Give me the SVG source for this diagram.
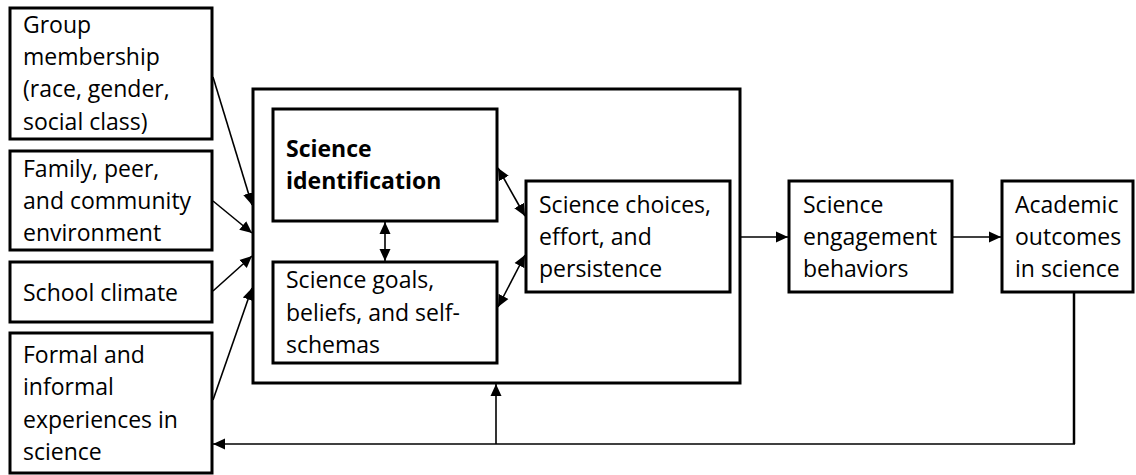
<svg xmlns="http://www.w3.org/2000/svg" width="1136" height="475" viewBox="0 0 1136 475">
<style>
.box{fill:#fff;stroke:#000;stroke-width:3}
.t{font-family:"Open Sans","Liberation Sans",sans-serif;font-size:23px;fill:#000}
.b{font-weight:bold}
.c{fill:none;stroke:#000;stroke-width:1.6}
</style>
<defs>
<marker id="ah" markerUnits="userSpaceOnUse" markerWidth="13" markerHeight="13" viewBox="0 0 13 13" refX="12" refY="6.5" orient="auto-start-reverse">
<path d="M0,1 L12,6.5 L0,12 Z" fill="#000"/>
</marker>
</defs>
<g id="outer"><rect class="box" x="253" y="89" width="487" height="294"/></g>
<g id="n-group"><rect class="box" x="10" y="8" width="202" height="131"/>
<text class="t"><tspan x="23" y="33">Group</tspan><tspan x="23" y="65">membership</tspan><tspan x="23" y="97">(race, gender,</tspan><tspan x="23" y="130">social class)</tspan></text></g>
<g id="n-family"><rect class="box" x="10" y="151" width="202" height="99"/>
<text class="t"><tspan x="23" y="177">Family, peer,</tspan><tspan x="23" y="209">and community</tspan><tspan x="23" y="241">environment</tspan></text></g>
<g id="n-school"><rect class="box" x="10" y="262" width="202" height="60"/>
<text class="t" x="23" y="301">School climate</text></g>
<g id="n-formal"><rect class="box" x="10" y="333" width="202" height="140"/>
<text class="t"><tspan x="23" y="363">Formal and</tspan><tspan x="23" y="395">informal</tspan><tspan x="23" y="428">experiences in</tspan><tspan x="23" y="460">science</tspan></text></g>
<g id="n-ident"><rect class="box" x="273" y="109" width="224" height="112"/>
<text class="t b"><tspan x="286" y="157">Science</tspan><tspan x="286" y="189">identification</tspan></text></g>
<g id="n-goals"><rect class="box" x="273" y="262" width="224" height="101"/>
<text class="t"><tspan x="286" y="288">Science goals,</tspan><tspan x="286" y="321">beliefs, and self-</tspan><tspan x="286" y="353">schemas</tspan></text></g>
<g id="n-choices"><rect class="box" x="526" y="181" width="204" height="111"/>
<text class="t"><tspan x="539" y="213">Science choices,</tspan><tspan x="539" y="245">effort, and</tspan><tspan x="539" y="277">persistence</tspan></text></g>
<g id="n-engage"><rect class="box" x="789" y="181" width="163" height="111"/>
<text class="t"><tspan x="803" y="213">Science</tspan><tspan x="803" y="245">engagement</tspan><tspan x="803" y="277">behaviors</tspan></text></g>
<g id="n-academic"><rect class="box" x="1002" y="181" width="131" height="111"/>
<text class="t"><tspan x="1015" y="213">Academic</tspan><tspan x="1015" y="245">outcomes</tspan><tspan x="1015" y="277">in science</tspan></text></g>
<g id="connectors">
<line class="c" x1="213" y1="77" x2="252" y2="205" marker-end="url(#ah)"/>
<line class="c" x1="213" y1="201" x2="252" y2="233" marker-end="url(#ah)"/>
<line class="c" x1="213" y1="291" x2="252" y2="256" marker-end="url(#ah)"/>
<line class="c" x1="213" y1="400" x2="252" y2="288" marker-end="url(#ah)"/>
<line class="c" x1="385" y1="222" x2="385" y2="261" marker-start="url(#ah)" marker-end="url(#ah)"/>
<line class="c" x1="498" y1="168" x2="525" y2="216" marker-start="url(#ah)" marker-end="url(#ah)"/>
<line class="c" x1="498" y1="307" x2="525" y2="255" marker-start="url(#ah)" marker-end="url(#ah)"/>
<line class="c" x1="741" y1="237" x2="788" y2="237" marker-end="url(#ah)"/>
<line class="c" x1="953" y1="237" x2="1001" y2="237" marker-end="url(#ah)"/>
<polyline fill="none" stroke="#000" stroke-width="2.5" points="1074,293 1074,444"/>
<line class="c" x1="1075" y1="444" x2="213" y2="444" marker-end="url(#ah)"/>
<line class="c" x1="496" y1="444" x2="496" y2="384" marker-end="url(#ah)"/>
</g>
</svg>
